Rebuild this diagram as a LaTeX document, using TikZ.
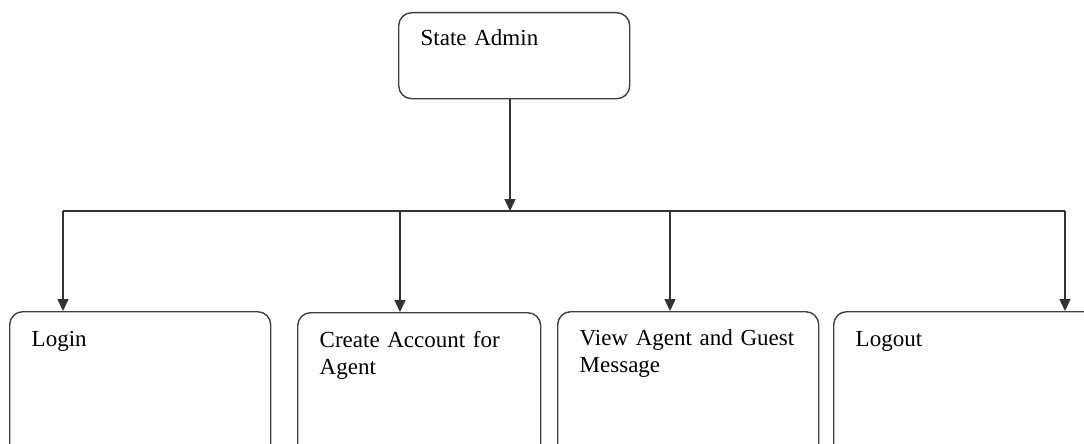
\documentclass[tikz,border=0pt]{standalone}
\usepackage{fontspec}
\setmainfont{Liberation Serif}
\usetikzlibrary{arrows.meta, positioning}

\newcommand{\boxfont}{\fontsize{23}{27}\selectfont\fontdimen2\font=3.4pt\fontdimen3\font=1pt\relax}

\begin{document}
\begin{tikzpicture}[
    x=1pt, y=-1pt,
    block/.style={draw=black!75, line width=1.4pt, rounded corners=13pt, anchor=north west,
                  inner xsep=22pt, inner ysep=0pt, align=left, text height=35pt,
                  font=\boxfont},
    link/.style={line width=1.5pt, draw=black!80},
    arr/.style={link, -{Triangle[length=12pt,width=11pt]}}
]
\useasboundingbox (0,0) rectangle (1084,444);

\node[block, text width=187pt, text height=33pt, text depth=53pt] (admin) at (398,12) {State Admin};

\node[block, text width=217pt, text depth=160pt] (login)  at (9,311)   {Login};
\node[block, text width=199pt, text height=35pt, text depth=160pt] (create) at (297,312)
    {Create Account for\\Agent};
\node[block, text width=217pt, text height=34pt, text depth=160pt] (view)   at (557,311)
    {View Agent and Guest\\Message};
\node[block, text width=240pt, text depth=160pt] (logout) at (833,311) {Logout};

% bus line and drops
\coordinate (hub)  at (510,211);
\coordinate (busL) at (63,211);
\coordinate (busR) at (1065,211);
\coordinate (d2)   at (400,211);
\coordinate (d3)   at (670,211);

\draw[arr] (admin.south -| hub) -- (hub);
\draw[link] (busL) -- (busR);
\draw[arr] (busL) -- (busL |- login.north);
\draw[arr] (d2) -- (d2 |- create.north);
\draw[arr] (d3) -- (d3 |- view.north);
\draw[arr] (busR) -- (busR |- logout.north);
\end{tikzpicture}
\end{document}
